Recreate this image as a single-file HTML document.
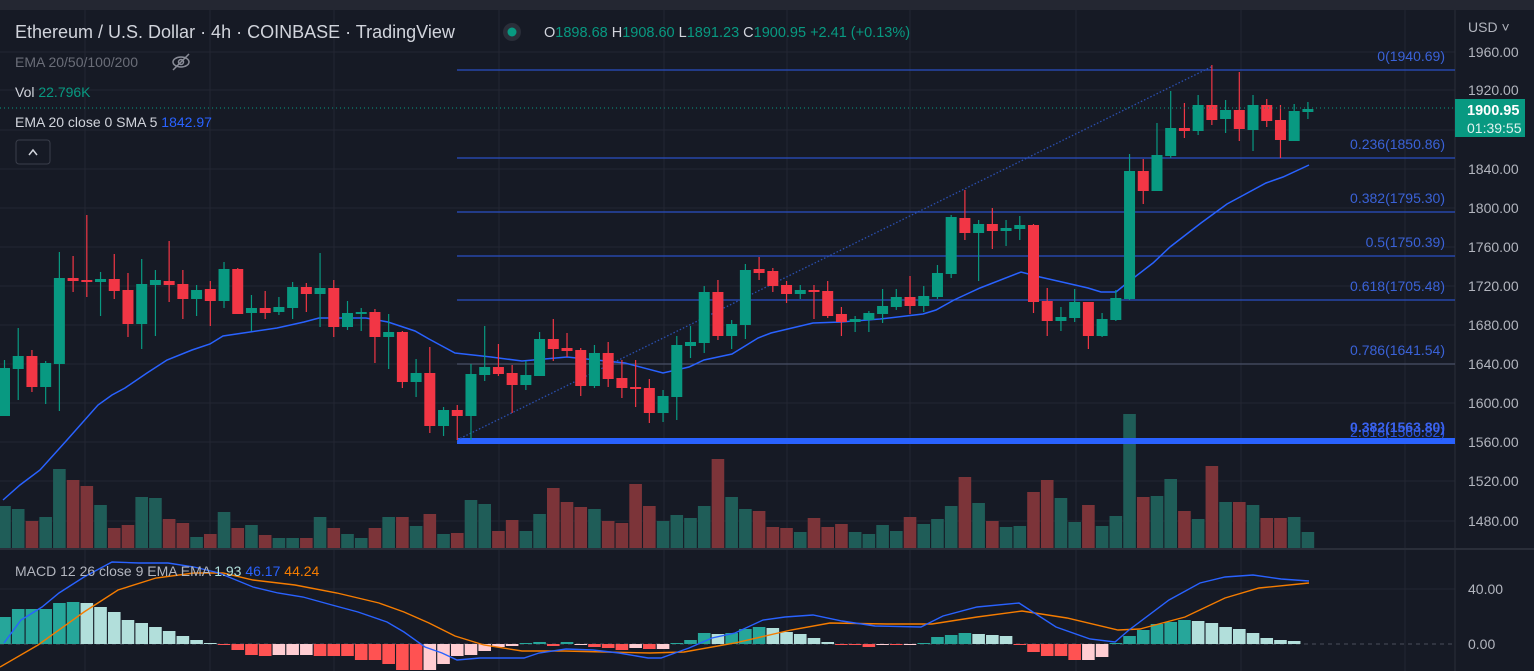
<!DOCTYPE html>
<html><head><meta charset="utf-8">
<style>
html,body{margin:0;padding:0;background:#161a25;width:1534px;height:671px;overflow:hidden}
svg{display:block;font-family:"Liberation Sans",sans-serif}
</style></head><body>
<svg id="s" width="1534" height="671" xmlns="http://www.w3.org/2000/svg">
<rect x="0" y="0" width="1534" height="671" fill="#161a25"/>
<rect x="0" y="0" width="1534" height="10" fill="#242732"/>
<g id="grid" stroke="#232632" stroke-width="1"></g>
<line x1="1455" y1="10" x2="1455" y2="671" stroke="#2a2e39"/>
<line x1="0" y1="549" x2="1534" y2="549" stroke="#2a2e39" stroke-width="2"/>
<g id="vol"></g>
<g id="fib"></g>
<g id="ema"></g>
<g id="candles"></g>
<g id="macd"></g>
<line x1="0" y1="108" x2="1455" y2="108" stroke="#089981" stroke-dasharray="1,3"/>
<!-- header text -->
<text x="15" y="38" font-size="18" fill="#d1d4dc">Ethereum / U.S. Dollar · 4h · COINBASE · TradingView</text>
<circle cx="512" cy="32" r="9" fill="#2a2e39"/><circle cx="512" cy="32" r="4.5" fill="#089981"/>
<text x="544" y="37" font-size="14.5" fill="#d1d4dc">O<tspan fill="#089981">1898.68</tspan> H<tspan fill="#089981">1908.60</tspan> L<tspan fill="#089981">1891.23</tspan> C<tspan fill="#089981">1900.95</tspan> <tspan fill="#089981">+2.41 (+0.13%)</tspan></text>
<text x="15" y="67" font-size="14" fill="#6a6d78">EMA 20/50/100/200</text>
<g stroke="#8a8d98" fill="none" stroke-width="1.5"><ellipse cx="181" cy="62" rx="8" ry="5"/><circle cx="181" cy="62" r="2.5"/><line x1="173" y1="70" x2="189" y2="54"/></g>
<text x="15" y="97" font-size="14" fill="#d1d4dc">Vol <tspan fill="#089981">22.796K</tspan></text>
<text x="15" y="127" font-size="14" fill="#d1d4dc">EMA 20 close 0 SMA 5 <tspan fill="#2962ff">1842.97</tspan></text>
<rect x="16" y="140" width="34" height="24" rx="3" fill="none" stroke="#3a3e4a"/>
<path d="M29 155 L33 150 L37 155" stroke="#d1d4dc" fill="none" stroke-width="1.5"/>
<text x="15" y="576" font-size="14" fill="#b2b5be">MACD 12 26 close 9 EMA EMA <tspan fill="#b2dfdb">1.93</tspan> <tspan fill="#2962ff">46.17</tspan> <tspan fill="#f57c00">44.24</tspan></text>
<!-- axis -->
<g font-size="14" fill="#b2b5be">
<text x="1468" y="32">USD ˅</text>
<text x="1468" y="57">1960.00</text>
<text x="1468" y="95">1920.00</text>
<text x="1468" y="174">1840.00</text>
<text x="1468" y="213">1800.00</text>
<text x="1468" y="252">1760.00</text>
<text x="1468" y="291">1720.00</text>
<text x="1468" y="330">1680.00</text>
<text x="1468" y="369">1640.00</text>
<text x="1468" y="408">1600.00</text>
<text x="1468" y="447">1560.00</text>
<text x="1468" y="486">1520.00</text>
<text x="1468" y="526">1480.00</text>
<text x="1468" y="594">40.00</text>
<text x="1468" y="649">0.00</text>
</g>
<rect x="1455" y="99" width="70" height="38" fill="#089981"/>
<text x="1467" y="115" font-size="14.5" font-weight="bold" fill="#ffffff">1900.95</text>
<text x="1467" y="133" font-size="14" fill="#e0f2ef">01:39:55</text>
</svg>
<script>
var NS="http://www.w3.org/2000/svg";
function el(p,t,a){var e=document.createElementNS(NS,t);for(var k in a)e.setAttribute(k,a[k]);document.getElementById(p).appendChild(e);return e;}
// grid
[52,90,130,169,208,247,286,325,364,403,442,481,521,589].forEach(function(y){el('grid','line',{x1:0,y1:y,x2:1455,y2:y});});
[85,210,334,499,664,787,910,1076,1241,1405].forEach(function(x){el('grid','line',{x1:x,y1:10,x2:x,y2:671});});
// candles: [bodyTop, bodyBottom, wickTop, wickBottom, green?]
var C=[
[368,416,360,416,1],[356,369,328,400,1],[356,387,350,392,0],[363,387,361,404,1],[278,364,252,411,1],
[278,281,256,292,0],[280,282,215,297,0],[279,282,272,316,1],[279,291,254,299,0],[290,324,273,337,0],
[284,324,259,349,1],[280,285,270,336,1],[281,285,241,302,0],[284,299,270,319,0],[290,299,285,316,1],
[289,301,281,326,0],[269,301,262,308,1],[269,314,268,314,0],[308,313,295,331,1],[308,313,291,319,0],
[307,312,297,315,1],[287,308,282,319,1],[287,294,283,312,0],[288,294,253,327,1],[288,327,280,337,0],
[313,327,301,330,1],[312,314,308,331,1],[312,337,309,363,0],[332,337,314,369,1],[332,382,331,388,0],
[373,382,359,397,1],[373,426,347,433,0],[410,426,407,436,1],[410,416,405,440,0],[374,416,364,440,1],
[367,375,326,381,1],[367,374,344,376,0],[373,385,365,413,0],[375,385,361,390,1],[339,376,332,376,1],
[339,349,319,361,0],[348,351,333,357,0],[350,386,348,396,0],[353,386,345,388,1],[353,379,342,387,0],
[378,388,360,398,0],[387,388,360,407,0],[388,413,379,423,0],[396,413,390,422,1],[345,397,336,420,1],
[342,346,326,358,1],[292,343,286,353,1],[292,336,280,340,0],[324,336,320,349,1],[270,325,264,339,1],
[269,273,257,280,0],[271,286,268,292,0],[285,294,281,303,0],[290,294,285,299,1],[290,292,285,319,0],
[291,316,281,318,0],[314,322,307,336,0],[319,322,316,332,1],[313,320,311,332,1],[306,314,289,323,1],
[297,307,289,310,1],[297,306,276,314,0],[296,306,286,312,1],[273,297,265,299,1],[217,274,215,278,1],
[218,233,190,240,0],[224,233,220,281,1],[224,231,208,249,0],[228,231,220,246,1],[225,229,216,240,1],
[225,302,224,313,0],[301,321,288,336,0],[317,321,307,331,1],[302,318,289,322,1],[302,336,302,349,0],
[319,336,313,337,1],[298,320,290,321,1],[171,299,154,300,1],[171,191,159,204,0],[155,191,123,191,1],
[128,156,91,158,1],[128,131,103,138,0],[105,131,95,135,1],[105,120,65,125,0],[110,119,100,133,1],
[110,129,72,141,0],[105,130,95,151,1],[105,121,99,127,0],[120,140,105,158,0],[111,141,104,141,1],
[109,112,102,119,1]];
var X=function(i){return 4.5+i*13.72;};
C.forEach(function(c,i){var x=X(i),col=c[4]?'#089981':'#f23645';
 el('candles','line',{x1:x,y1:c[2],x2:x,y2:c[3],stroke:col,'stroke-width':1.2});
 el('candles','rect',{x:x-5.5,y:c[0],width:11,height:Math.max(2,c[1]-c[0]),fill:col});});
// volume tops
var V=[506,509,521,517,469,480,486,505,528,525,497,498,519,523,537,534,512,528,525,535,538,538,538,517,528,534,538,528,517,517,526,514,534,533,500,504,531,520,531,514,488,502,507,509,521,523,484,506,521,515,518,506,459,497,509,511,527,528,532,518,527,524,532,534,525,531,517,524,519,506,477,503,521,527,526,492,480,498,522,505,526,516,414,497,496,479,511,519,466,502,502,505,518,518,517,532];
V.forEach(function(t,i){var x=X(i);el('vol','rect',{x:x-6.3,y:t,width:12.6,height:548-t,fill:C[i][4]?'#1f5d58':'#7c3439'});});
// fib
var F=[[70,'0(1940.69)','#2a4fc4'],[158,'0.236(1850.86)','#2a4fc4'],[212,'0.382(1795.30)','#2a4fc4'],[256,'0.5(1750.39)','#2a4fc4'],[300,'0.618(1705.48)','#2a4fc4'],[364,'0.786(1641.54)','#4a5068']];
F.forEach(function(f){el('fib','line',{x1:457,y1:f[0],x2:1455,y2:f[0],stroke:f[2],'stroke-width':1.3});
 var t=el('fib','text',{x:1445,y:f[0]-9,'font-size':14,fill:'#3a62d8','text-anchor':'end'});t.textContent=f[1];});
el('fib','rect',{x:457,y:438,width:998,height:6,fill:'#2962ff'});
var t1=el('fib','text',{x:1445,y:437,'font-size':14,fill:'#2a55e0','text-anchor':'end'});t1.textContent='2.618(1560.82)';
var t2=el('fib','text',{x:1445,y:432,'font-size':14,fill:'#3a62ee','text-anchor':'end','font-weight':'bold'});t2.textContent='0.382(1563.80)';
el('fib','line',{x1:457,y1:440,x2:1213,y2:66,stroke:'#2a4fb0','stroke-dasharray':'1.5,2','stroke-width':1.3});
// EMA
var E=[[3,500],[20,485],[40,470],[67,440],[98,405],[112,395],[125,388],[147,373],[167,360],[192,350],[210,344],[223,336],[250,332],[277,328],[304,322],[319,318],[339,318],[366,318],[388,322],[415,331],[429,339],[455,353],[491,357],[522,361],[567,357],[625,363],[663,373],[689,367],[704,360],[732,354],[758,338],[771,333],[813,323],[841,322],[880,319],[923,314],[936,310],[954,300],[980,288],[1021,272],[1040,277],[1062,282],[1088,288],[1101,292],[1116,292],[1127,283],[1153,263],[1170,247],[1201,223],[1227,204],[1240,197],[1266,183],[1283,177],[1309,165]];
el('ema','polyline',{points:E.join(' '),fill:'none',stroke:'#2962ff','stroke-width':1.5});
// MACD
el('macd','line',{x1:0,y1:644,x2:1455,y2:644,stroke:'#4a4e5a','stroke-dasharray':'4,4'});
var H=[[617,0],[609,0],[609,0],[609,0],[603,0],[602,0],[603,1],[607,1],[612,1],[620,1],[623,1],[627,1],[631,1],[636,1],[640,1],[643,1],
[645,2],[650,2],[655,2],[656,2],[655,3],[655,3],[655,3],[656,2],[656,2],[656,2],[660,2],[660,2],[664,2],[670,2],[670,2],[670,3],[664,3],[656,3],[655,3],[651,3],[647,3],[646,3],
[643,0],[642,0],[646,2],[642,0],[645,3],[647,2],[648,2],[650,2],[648,3],[649,2],[649,3],
[643,0],[640,0],[633,0],[634,1],[633,0],[629,0],[627,0],[628,1],[632,1],[634,1],[638,1],[642,1],[645,2],[645,2],[647,2],[645,3],[645,2],[645,3],
[643,0],[637,0],[635,0],[633,0],[634,1],[635,1],[636,1],[645,2],[652,2],[656,2],[656,2],[660,2],[660,3],[657,3],
[643,0],[636,0],[630,0],[624,0],[622,0],[620,0],[621,1],[623,1],[627,1],[629,1],[633,1],[638,1],[640,1],[641,1]];
var HC=['#26a69a','#b2dfdb','#ff5252','#ffcdd2'];
H.forEach(function(h,i){if(i>95)return;var x=X(i),y=h[0];var top=Math.min(y,644),ht=Math.abs(y-644);if(ht<1)ht=1;
 el('macd','rect',{x:x-6.3,y:top,width:12.6,height:ht,fill:HC[h[1]]});});
var M=[[4,643],[21,620],[42,607],[59,593],[84,577],[112,562],[139,563],[168,563],[194,567],[219,573],[253,587],[278,593],[303,597],[332,605],[358,612],[387,622],[404,632],[425,647],[442,653],[457,660],[480,658],[524,658],[539,653],[566,649],[593,650],[619,653],[648,658],[661,658],[689,648],[712,638],[735,633],[763,620],[785,617],[813,615],[842,621],[875,626],[921,627],[943,616],[977,607],[1019,603],[1056,627],[1090,639],[1115,642],[1129,630],[1169,600],[1200,583],[1225,577],[1253,575],[1281,579],[1309,581]];
var S=[[0,667],[38,645],[84,612],[118,590],[156,578],[194,573],[223,573],[253,580],[295,585],[337,593],[379,603],[404,612],[429,623],[455,636],[484,645],[522,651],[564,651],[606,652],[650,653],[684,652],[735,643],[791,630],[830,623],[887,624],[932,624],[977,617],[1022,611],[1067,618],[1118,630],[1140,629],[1185,617],[1225,598],[1259,588],[1309,583]];
el('macd','polyline',{points:S.join(' '),fill:'none',stroke:'#f57c00','stroke-width':1.4});
el('macd','polyline',{points:M.join(' '),fill:'none',stroke:'#2962ff','stroke-width':1.4});
</script>
</body></html>
